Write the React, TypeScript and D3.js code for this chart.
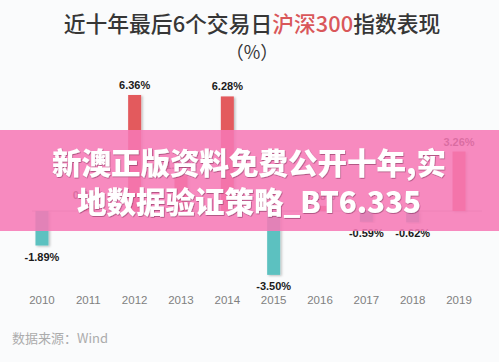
import React from "react";
import * as d3 from "d3";

const years = ["2010", "2011", "2012", "2013", "2014", "2015", "2016", "2017", "2018", "2019"];
const returns = [-1.89, 0.31, 6.36, 1.96, 6.28, -3.5, 0.28, -0.59, -0.62, 3.26];
const titleParts = ["近十年最后6个交易日", "沪深300", "指数表现"];
const bannerLines = ["新澳正版资料免费公开十年,实", "地数据验证策略_BT6.335"];

const W = 499;
const H = 362;

export default function App() {
  const x = d3.scaleBand().domain(years).range([18.8, 482.2]).padding(0);
  const y = d3.scaleLinear().domain([-4, 7]).range([284, 83.3]);
  const barW = 13;
  const fmt = (v: number) => v.toFixed(2) + "%";

  return (
    <svg
      width={W}
      height={H}
      style={{ position: "absolute", left: 0, top: 0, display: "block" }}
    >
      <defs>
        <filter id="barShadow" x="-30%" y="-10%" width="160%" height="120%">
          <feDropShadow dx="1.5" dy="1" stdDeviation="1" floodColor="#000" floodOpacity="0.25" />
        </filter>
        <filter id="txtShadow" x="-5%" y="-20%" width="110%" height="140%">
          <feDropShadow dx="0.6" dy="0.8" stdDeviation="0.6" floodColor="#6a2048" floodOpacity="0.6" />
        </filter>
      </defs>
      <rect width={W} height={H} fill="#fafbfc" />

      <text
        x={252}
        y={32}
        textAnchor="middle"
        fontFamily="'Noto Sans CJK SC', sans-serif"
        fontSize={21.8}
        fontWeight={500}
        fill="#363636"
      >
        <tspan>{titleParts[0]}</tspan>
        <tspan fill="#d9575a">{titleParts[1]}</tspan>
        <tspan>{titleParts[2]}</tspan>
      </text>
      <text
        x={252}
        y={59}
        textAnchor="middle"
        fontFamily="'Noto Sans CJK SC', sans-serif"
        fontSize={18}
        fill="#363636"
      >
        （%）
      </text>

      <line x1={32} x2={482} y1={y(0)} y2={y(0)} stroke="#c8c8c8" strokeWidth={1} />

      {returns.map((v, i) => {
        const cx = (x(years[i]) as number) + x.bandwidth() / 2;
        const top = Math.min(y(v), y(0));
        const h = Math.abs(y(v) - y(0));
        return (
          <g key={years[i]}>
            <rect
              x={cx - barW / 2}
              y={top}
              width={barW}
              height={h}
              fill={v >= 0 ? "#e35a5d" : "#5cc1c0"}
              filter="url(#barShadow)"
            />
            <text
              x={cx}
              y={v >= 0 ? y(v) - 6 : y(v) + 15}
              textAnchor="middle"
              fontFamily="'Liberation Sans', Arial, sans-serif"
              fontSize={11}
              fontWeight="bold"
              fill="#1a1a1a"
            >
              {fmt(v)}
            </text>
            <text
              x={cx}
              y={304}
              textAnchor="middle"
              fontFamily="'Liberation Sans', Arial, sans-serif"
              fontSize={11.5}
              fill="#808080"
            >
              {years[i]}
            </text>
          </g>
        );
      })}

      <text
        x={12}
        y={343}
        fontFamily="'Noto Sans CJK SC', sans-serif"
        fontSize={13}
        fill="#acacac"
      >
        数据来源：Wind
      </text>

      <rect x={0} y={130} width={W} height={101} fill="#f679b5" opacity={0.87} />
      {bannerLines.map((t, i) => (
        <text
          key={i}
          x={249}
          y={i === 0 ? 174 : 213}
          textAnchor="middle"
          fontFamily="'Noto Sans CJK SC', sans-serif"
          fontSize={29.5}
          fontWeight={900}
          fill="#ffffff"
          filter="url(#txtShadow)"
        >
          {t}
        </text>
      ))}
    </svg>
  );
}
